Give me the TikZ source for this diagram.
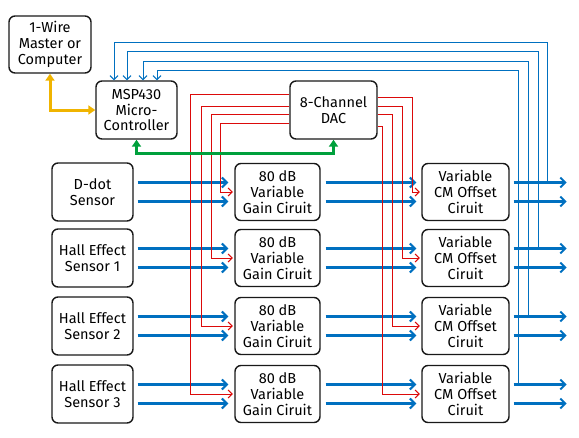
\documentclass[tikz,border=0pt]{standalone}
\usepackage{fontspec}
\setmainfont{Fira Sans}
\usetikzlibrary{arrows.meta}
\definecolor{sigblue}{RGB}{0,112,192}
\definecolor{sigred}{RGB}{220,10,10}
\definecolor{busgreen}{RGB}{0,160,60}
\definecolor{wireyellow}{RGB}{240,180,0}
\begin{document}
\begin{tikzpicture}[x=1pt, y=-1pt,
    blk/.style={draw=black!90, line width=1.4pt, rounded corners=6pt, fill=white,
        align=center, font=\fontsize{14.5}{16}\selectfont, inner sep=0pt},
    bigarrow/.style={draw=sigblue, line width=3pt, -{Straight Barb[length=5pt,width=10pt,line width=2pt]}},
    fb/.style={draw=sigblue, line width=1pt, -{Straight Barb[length=4pt,width=8pt]}},
    dacline/.style={draw=sigred, line width=1pt, -{Straight Barb[length=4pt,width=8pt]}},
    bus/.style={line width=3pt, {Triangle[length=7pt,width=9pt]}-{Triangle[length=7pt,width=9pt]}}]
        \useasboundingbox (0,0) rectangle (579,437);

        % Control blocks
        \node[blk, minimum width=82pt, minimum height=57pt] (wire) at (50,44.5) {1-Wire\\Master or\\Computer};
        \node[blk, minimum width=81pt, minimum height=58pt] (msp) at (136.5,110) {MSP430\\Micro-\\Controller};
        \node[blk, minimum width=87pt, minimum height=58pt] (dac) at (333.5,110) {8-Channel\\DAC};

        % Signal chain rows
        \foreach \i/\y/\name in {1/192/D-dot\\Sensor, 2/258/Hall Effect\\Sensor 1,
                                 3/326/Hall Effect\\Sensor 2, 4/394/Hall Effect\\Sensor 3} {
            \node[blk, minimum width=81pt, minimum height=58pt] (sens\i) at (92.5,\y) {\name};
            \node[blk, minimum width=85pt, minimum height=57pt] (gain\i) at (277.5,\y) {80 dB\\Variable\\Gain Ciruit};
            \node[blk, minimum width=87pt, minimum height=57pt] (cmo\i) at (465.5,\y) {Variable\\CM Offset\\Ciruit};
            \foreach \s in {9.5,-9.5} {
                \draw[bigarrow] ([xshift=4pt,yshift=\s pt]sens\i.east) -- ([xshift=-6pt,yshift=\s pt]gain\i.west);
                \draw[bigarrow] ([xshift=5pt,yshift=\s pt]gain\i.east) -- ([xshift=-5pt,yshift=\s pt]cmo\i.west);
                \draw[bigarrow] ([xshift=4pt,yshift=\s pt]cmo\i.east) -- ([xshift=57pt,yshift=\s pt]cmo\i.east);
            }
        }

        % DAC outputs to gain and offset stages
        \foreach \i/\dy/\gx/\cx in {1/-13/-14/-9, 2/-4/-23/-19, 3/4/-33/-29, 4/16/-44/-39} {
            \draw[dacline] ([yshift=\dy pt]dac.west) -| ([xshift=\gx pt]gain\i.west) -- ([xshift=-1.5pt]gain\i.west);
            \draw[dacline] ([yshift=-\dy pt]dac.east) -| ([xshift=\cx pt]cmo\i.west) -- ([xshift=-1.5pt]cmo\i.west);
        }

        % Feedback of the outputs to the MSP430
        \foreach \i/\dx/\h/\mx in {1/38/38/-22.5, 2/29/29/-9.5, 3/19/19/6.5, 4/9/10/20.5} {
            \draw[fb] ([xshift=\dx pt,yshift=9.5pt]cmo\i.east) |- ([xshift=\mx pt,yshift=\h pt]msp.north)
                -- ([xshift=\mx pt]msp.north);
        }

        % 1-Wire link and DAC bus
        \draw[bus, wireyellow] (wire.south) |- (msp.west);
        \draw[bus, busgreen] (msp.south) -- ++(0,14) -| (dac.south);
\end{tikzpicture}
\end{document}
